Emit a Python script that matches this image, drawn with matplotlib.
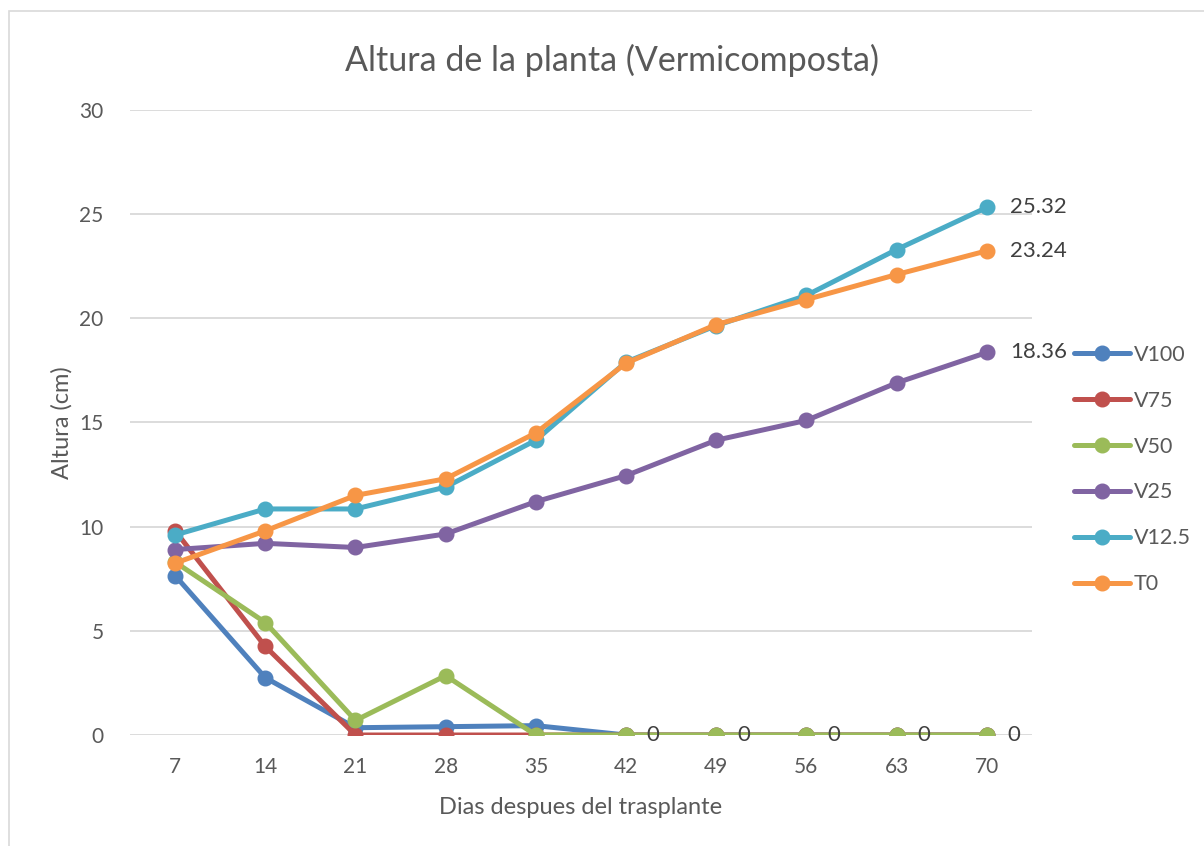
import matplotlib.pyplot as plt
from matplotlib.patches import Rectangle

plt.rcParams['font.family'] = ['Lato', 'DejaVu Sans']

dias = [7, 14, 21, 28, 35, 42, 49, 56, 63, 70]
v100 = [7.65, 2.75, 0.35, 0.4, 0.45, 0, 0, 0, 0, 0]
v75 = [9.8, 4.25, 0, 0, 0, 0, 0, 0, 0, 0]
v50 = [8.3, 5.4, 0.7, 2.85, 0, 0, 0, 0, 0, 0]
v25 = [8.9, 9.2, 9.0, 9.65, 11.2, 12.45, 14.15, 15.1, 16.9, 18.36]
v125 = [9.6, 10.85, 10.85, 11.9, 14.15, 17.9, 19.65, 21.1, 23.3, 25.32]
t0 = [8.25, 9.8, 11.5, 12.3, 14.5, 17.85, 19.7, 20.9, 22.1, 23.24]

series = [("V100", v100, "#4F81BD"),
          ("V75", v75, "#C0504D"),
          ("V50", v50, "#9BBB59"),
          ("V25", v25, "#8064A2"),
          ("V12.5", v125, "#4BACC6"),
          ("T0", t0, "#F79646")]

fig = plt.figure(figsize=(12.04, 8.46), dpi=100)
ax = fig.add_axes([0.108, 0.1312, 0.749, 0.7388])

x = list(range(len(dias)))
for name, vals, col in series:
    ax.plot(x, vals, color=col, lw=3.6, marker='o', ms=10.5,
            solid_capstyle='round', label=name)

# data labels
lab_col = '#404040'
for i in range(5, 10):
    ax.annotate("0", (x[i], v50[i]), xytext=(15, 0), textcoords='offset points',
                va='center', ha='left', fontsize=16, color=lab_col)
for vals in (v125, t0, v25):
    ax.annotate("%.2f" % vals[-1], (x[-1], vals[-1]), xytext=(17, 0),
                textcoords='offset points', va='center', ha='left',
                fontsize=16, color=lab_col)

ax.set_xlim(-0.5, 9.5)
ax.set_ylim(0, 30)
ax.set_yticks(range(0, 31, 5))
ax.set_xticks(x)
ax.set_xticklabels([str(d) for d in dias])
ax.grid(axis='y', color='#D9D9D9', lw=1.3)
ax.set_axisbelow(True)
for s in ax.spines.values():
    s.set_visible(False)
ax.tick_params(length=0, labelsize=15, colors='#595959', pad=16)
ax.tick_params(axis='y', pad=19)

ax.set_title("Altura de la planta (Vermicomposta)", fontsize=24.5, color='#595959',
             pad=28, x=0.534)
ax.set_xlabel("Dias despues del trasplante", fontsize=17, color='#595959', labelpad=14)
ax.set_ylabel("Altura (cm)", fontsize=17, color='#595959', labelpad=5)

leg = ax.legend(loc='upper left', bbox_to_anchor=(1.025, 0.655), frameon=False,
                fontsize=15.5, labelspacing=1.2, handlelength=2.6, handletextpad=0.2)
for t in leg.get_texts():
    t.set_color('#595959')

fig.patches.append(Rectangle((9 / 1204, -0.01), 1.1, 1 - 11 / 846 + 0.01,
                             transform=fig.transFigure, fill=False,
                             edgecolor='#D9D9D9', lw=1.2))

fig.savefig("out.png", dpi=100)
